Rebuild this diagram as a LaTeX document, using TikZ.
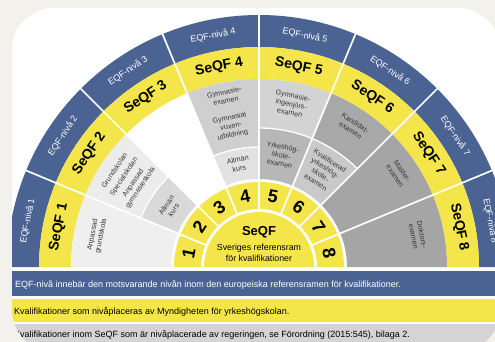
\documentclass[tikz,border=0pt]{standalone}
\usepackage{fontspec}
\setmainfont{Liberation Sans}
\definecolor{eqfblue}{HTML}{4A6393}
\definecolor{seqfyellow}{HTML}{F4E54B}
\definecolor{bgbeige}{HTML}{F3F1EC}
\definecolor{gA}{HTML}{EFEFEF}
\definecolor{gB}{HTML}{ECECEC}
\definecolor{gC}{HTML}{D9D9D9}
\definecolor{gD}{HTML}{CFCFCF}
\definecolor{gE}{HTML}{E2E2E2}
\definecolor{gF}{HTML}{D3D3D3}
\definecolor{gG}{HTML}{B7B7B7}
\definecolor{gH}{HTML}{A8A8A8}
\definecolor{gI}{HTML}{C9C9C9}
\definecolor{gJ}{HTML}{A5A5A5}
\definecolor{gbar}{HTML}{D4D4D4}
\newcommand{\annsec}[5]{\fill[#5] (#1:#3) arc[start angle=#1,end angle=#2,radius=#3] -- (#2:#4) arc[start angle=#2,end angle=#1,radius=#4] -- cycle;}
\tikzset{
  eqflab/.style={text=white, font=\fontsize{9}{10}\selectfont, inner sep=0pt},
  seqflab/.style={text=black, font=\bfseries\fontsize{14}{16}\selectfont, inner sep=0pt},
  numlab/.style={text=black, font=\bfseries\fontsize{18}{20}\selectfont, inner sep=0pt},
  contlab/.style={text=black!78, font=\fontsize{7.2}{8.6}\selectfont, align=center, inner sep=0pt},
  barlab/.style={anchor=west, font=\fontsize{9}{10}\selectfont, inner sep=0pt},
  divline/.style={white, line width=1.7pt},
  splitline/.style={white, line width=1.3pt}
}
\begin{document}
\begin{tikzpicture}[x=1pt,y=1pt]
\useasboundingbox (0,0) rectangle (495,-342);
\fill[bgbeige] (0,0) rectangle (495,-342);
\fill[white, rounded corners=42pt] (12,-8) rectangle (500,-352);
\begin{scope}
\clip[rounded corners=42pt] (12,-8) rectangle (500,-352);
\begin{scope}[shift={(259,-267)}]
  % outer rings
  \annsec{0}{180}{220}{252}{eqfblue}
  \annsec{0}{180}{188}{220}{seqfyellow}
  % content
  \annsec{157.5}{180}{88}{188}{gA}
  \annsec{135}{157.5}{128}{188}{gB}
  \annsec{135}{157.5}{88}{128}{gC}
  \annsec{90}{112.5}{120}{188}{gD}
  \annsec{90}{112.5}{88}{120}{gE}
  \annsec{67.5}{90}{139}{188}{gF}
  \annsec{67.5}{90}{88}{139}{gG}
  \annsec{45}{67.5}{139}{188}{gH}
  \annsec{45}{67.5}{88}{139}{gI}
  \annsec{22.5}{45}{88}{188}{gJ}
  \annsec{0}{22.5}{88}{188}{gJ}
  % number ring and centre
  \annsec{0}{180}{58}{85}{seqfyellow}
  \fill[seqfyellow] (0:55) arc[start angle=0,end angle=180,radius=55] -- cycle;
  % splits
  \draw[splitline] (135:128) arc[start angle=135,end angle=157.5,radius=128];
  \draw[splitline] (90:120) arc[start angle=90,end angle=112.5,radius=120];
  \draw[splitline] (45:139) arc[start angle=45,end angle=90,radius=139];
  % dividers
  \foreach \a in {22.5,45,67.5,90,112.5,135,157.5}
    \draw[divline] (\a:56) -- (\a:262);
  % ring labels
  \foreach \k in {1,...,8} {
    \pgfmathsetmacro\myang{191.25-22.5*\k}
    \pgfmathsetmacro\myrot{\myang-90}
    \node[numlab, rotate=\myrot] (n\k) at (\myang:71.5) {\k};
    \node[seqflab, rotate=\myrot] (s\k) at (\myang:204) {SeQF \k};
    \node[eqflab, rotate=\myrot] (e\k) at (\myang:236) {EQF-nivå \k};
  }
  % centre
  \node[font=\bfseries\fontsize{13}{15}\selectfont, inner sep=0pt] (seqf) at (0,35) {SeQF};
  \node[font=\fontsize{8.8}{10.5}\selectfont, align=center, inner sep=0pt] (ref) at (0,14) {Sveriges referensram\\för kvalifikationer};
  % contents
  \node[contlab, rotate=78.75] (c1) at (169:165) {Anpassad\\grundskola};
  \node[contlab, rotate=56.25] (c2) at (146.25:158) {Grundskolan\\[2.5pt]Specialskolan\\[2.5pt]Anpassad\\gymnasieskola};
  \node[contlab, rotate=56.25] (c2b) at (146.25:107) {Allmän\\kurs};
  \node[contlab, rotate=11.25] (c4a) at (101.25:174) {Gymnasie-\\examen};
  \node[contlab, rotate=11.25] (c4b) at (101.25:143) {Gymnasial\\vuxen-\\utbildning};
  \node[contlab, rotate=11.25] (c4c) at (101.25:105) {Allmän\\kurs};
  \node[contlab, rotate=-11.25] (c5a) at (78.75:166) {Gymnasie-\\ingenjörs-\\examen};
  \node[contlab, rotate=-11.25] (c5b) at (78.75:114) {Yrkeshög-\\skole-\\examen};
  \node[contlab, rotate=-33.75] (c6a) at (56.25:169) {Kandidat-\\examen};
  \node[contlab, rotate=-33.75] (c6b) at (56.25:115) {Kvalificerad\\yrkeshög-\\skole-\\examen};
  \node[contlab, rotate=-56.25] (c7) at (33.75:168) {Master-\\examen};
  \node[contlab, rotate=-78.75] (c8) at (11.25:162) {Doktors-\\examen};
\end{scope}
% bottom bars
\fill[eqfblue] (12,-271) rectangle (500,-296);
\fill[seqfyellow] (12,-299) rectangle (500,-322);
\fill[gbar] (12,-323.5) rectangle (500,-352);
\node[barlab, text=white] (t1) at (15,-284.5) {EQF-nivå innebär den motsvarande nivån inom den europeiska referensramen för kvalifikationer.};
\node[barlab, text=black] (t2) at (14,-311.5) {Kvalifikationer som nivåplaceras av Myndigheten för yrkeshögskolan.};
\node[barlab, text=black] (t3) at (14,-335) {Kvalifikationer inom SeQF som är nivåplacerade av regeringen, se Förordning (2015:545), bilaga 2.};
\end{scope}
\end{tikzpicture}
\end{document}
